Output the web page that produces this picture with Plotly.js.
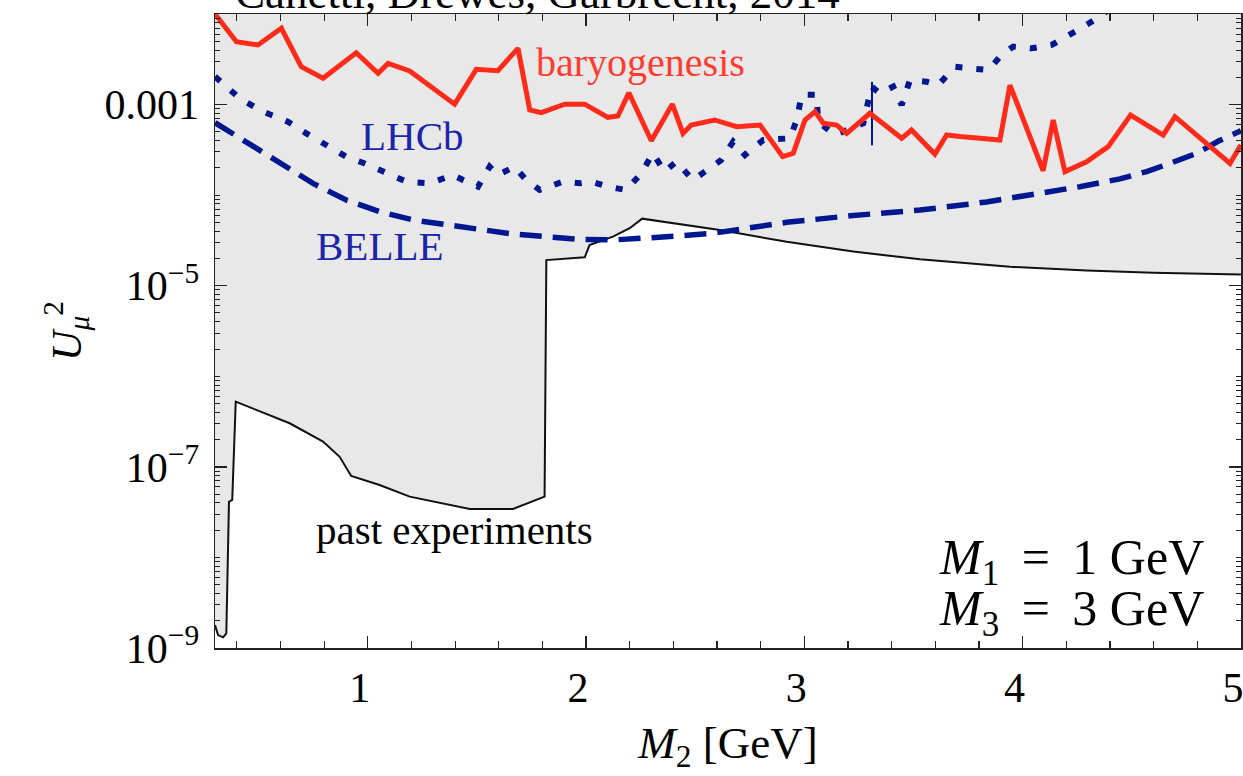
<!DOCTYPE html>
<html>
<head>
<meta charset="utf-8">
<script src="https://cdn.plot.ly/plotly-3.0.1.min.js"></script>
<style>html,body{margin:0;padding:0;background:#fff;}#chart{width:1243px;height:776px;}</style>
</head>
<body>
<div id="chart"></div>
<script>
// ---- data (x = M2 in GeV, y = U_mu^2) ----
const baryoX = [0.3, 0.398, 0.497, 0.604, 0.695, 0.795, 0.947, 1.047, 1.093, 1.192, 1.398, 1.497, 1.596, 1.688, 1.742, 1.795, 1.902, 1.994, 2.100, 2.146, 2.196, 2.299, 2.395, 2.444, 2.482, 2.589, 2.690, 2.797, 2.901, 2.949, 3.003, 3.049, 3.087, 3.148, 3.194, 3.300, 3.446, 3.491, 3.598, 3.652, 3.713, 3.896, 3.942, 4.094, 4.140, 4.194, 4.293, 4.392, 4.495, 4.644, 4.698, 4.950, 5.0];
const baryoY = [1.0e-2, 4.94e-3, 4.55e-3, 6.95e-3, 2.62e-3, 1.95e-3, 3.74e-3, 2.21e-3, 2.85e-3, 2.35e-3, 1.01e-3, 2.45e-3, 2.37e-3, 4.18e-3, 8.71e-4, 8.13e-4, 1.01e-3, 1.01e-3, 7.23e-4, 7.48e-4, 1.35e-3, 3.99e-4, 1.01e-3, 4.81e-4, 5.94e-4, 6.76e-4, 5.70e-4, 5.94e-4, 2.66e-4, 2.90e-4, 6.76e-4, 8.36e-4, 6.21e-4, 5.94e-4, 4.81e-4, 8.0e-4, 4.24e-4, 5.24e-4, 2.84e-4, 4.61e-4, 4.43e-4, 4.06e-4, 1.64e-3, 1.86e-4, 6.76e-4, 1.82e-4, 2.34e-4, 3.43e-4, 7.67e-4, 4.61e-4, 7.35e-4, 2.24e-4, 3.58e-4];

const lhcbX = [0.3, 0.413, 0.520, 0.634, 0.718, 0.818, 0.901, 0.986, 1.070, 1.176, 1.283, 1.390, 1.436, 1.505, 1.558, 1.596, 1.673, 1.719, 1.787, 1.894, 1.971, 2.024, 2.100, 2.184, 2.253, 2.306, 2.360, 2.413, 2.490, 2.581, 2.619, 2.674, 2.728, 2.812, 2.934, 2.965, 2.988, 3.056, 3.063, 3.140, 3.270, 3.308, 3.346, 3.407, 3.446, 3.484, 3.560, 3.613, 3.690, 3.758, 3.842, 3.911, 3.957, 4.041, 4.133, 4.240, 4.354, 4.42];
const lhcbY = [2.04e-3, 1.17e-3, 8.36e-4, 6.47e-4, 4.81e-4, 3.43e-4, 2.66e-4, 2.24e-4, 1.82e-4, 1.41e-4, 1.35e-4, 1.67e-4, 1.47e-4, 1.24e-4, 2.06e-4, 1.67e-4, 2.06e-4, 1.53e-4, 1.14e-4, 1.41e-4, 1.35e-4, 1.41e-4, 1.24e-4, 1.14e-4, 1.74e-4, 2.90e-4, 1.82e-4, 2.34e-4, 1.47e-4, 2.15e-4, 2.44e-4, 3.89e-4, 2.77e-4, 4.06e-4, 4.24e-4, 6.76e-4, 1.28e-3, 1.28e-3, 6.47e-4, 4.61e-4, 6.21e-4, 1.58e-3, 1.33e-3, 1.58e-3, 9.89e-4, 1.87e-3, 1.79e-3, 1.64e-3, 2.62e-3, 2.51e-3, 2.41e-3, 3.68e-3, 4.36e-3, 4.18e-3, 4.55e-3, 6.38e-3, 9.33e-3, 1.26e-2];

const lhcbSpikeX = [3.31, 3.31];
const lhcbSpikeY = [1.78e-3, 3.55e-4];

const belleX = [0.3, 0.443, 0.596, 0.749, 0.901, 1.054, 1.207, 1.360, 1.513, 1.665, 1.818, 1.971, 2.123, 2.276, 2.429, 2.581, 2.919, 3.224, 3.530, 3.835, 4.140, 4.262, 4.446, 4.568, 4.675, 4.797, 4.900, 5.0];
const belleY = [6.31e-4, 3.89e-4, 2.34e-4, 1.35e-4, 8.83e-5, 6.56e-5, 5.32e-5, 4.68e-5, 4.12e-5, 3.72e-5, 3.48e-5, 3.25e-5, 3.20e-5, 3.33e-5, 3.54e-5, 3.79e-5, 5.01e-5, 5.96e-5, 6.84e-5, 8.41e-5, 1.10e-4, 1.24e-4, 1.51e-4, 1.82e-4, 2.24e-4, 2.90e-4, 3.98e-4, 5.13e-4];

const pastX = [0.3, 0.314, 0.337, 0.352, 0.364, 0.379, 0.395, 0.489, 0.642, 0.795, 0.871, 0.924, 1.054, 1.192, 1.329, 1.467, 1.665, 1.810, 1.818, 1.994, 2.016, 2.123, 2.200, 2.257, 2.613, 2.919, 3.224, 3.530, 3.942, 4.293, 4.598, 4.812, 5.0];
const pastY = [1.79e-9, 1.39e-9, 1.31e-9, 1.45e-9, 4.12e-8, 4.31e-8, 5.25e-7, 4.25e-7, 3.03e-7, 1.90e-7, 1.29e-7, 7.93e-8, 6.31e-8, 4.69e-8, 4.02e-8, 3.43e-8, 3.43e-8, 4.69e-8, 1.92e-5, 2.06e-5, 2.81e-5, 3.48e-5, 4.31e-5, 5.50e-5, 4.12e-5, 3.06e-5, 2.38e-5, 1.96e-5, 1.62e-5, 1.47e-5, 1.39e-5, 1.35e-5, 1.33e-5];

const xRange = [0.3, 5.0005];
const yRangeExp = [-9, -2];
const xTickVals = [1, 2, 3, 4, 5];
const xTickText = ['1', '2', '3', '4', '5'];
const yTickVals = [1e-9, 1e-7, 1e-5, 1e-3];
const yTickText = ['10<sup>\u22129</sup>', '10<sup>\u22127</sup>', '10<sup>\u22125</sup>', '0.001'];

// ---- styling ----
const SERIF = 'Liberation Serif, Times New Roman, serif';
const RED = '#ff2b1a';
const BLUE = '#00178f';
const GREY = '#e8e8e8';

// upper boundary of the excluded region = top of the axis
const yTop = Math.pow(10, yRangeExp[1]);
const fillX = pastX.concat([xRange[1], xRange[0]]);
const fillY = pastY.concat([yTop, yTop]);

// minor ticks on the log axis: 2..9 of every decade and the unlabeled decades
const yMinor = [];
for (let e = yRangeExp[0]; e < yRangeExp[1]; e++) {
  for (let d = 1; d <= 9; d++) {
    const v = d * Math.pow(10, e);
    if (!yTickVals.some(t => Math.abs(t - v) / v < 1e-6)) yMinor.push(v);
  }
}

const traces = [
  {x: fillX, y: fillY, mode: 'lines', fill: 'toself', fillcolor: GREY,
   line: {width: 0, color: GREY}, hoverinfo: 'skip', showlegend: false},
  {x: pastX, y: pastY, mode: 'lines', line: {color: '#111', width: 2}, showlegend: false},
  {x: belleX, y: belleY, mode: 'lines', line: {color: BLUE, width: 5.5, dash: '22px,11px'}, showlegend: false},
  {x: lhcbX, y: lhcbY, mode: 'lines', line: {color: BLUE, width: 6, dash: '7px,14px'}, showlegend: false},
  {x: lhcbSpikeX, y: lhcbSpikeY, mode: 'lines', line: {color: BLUE, width: 2}, showlegend: false},
  {x: baryoX, y: baryoY, mode: 'lines', line: {color: RED, width: 5}, showlegend: false}
];

const layout = {
  width: 1243, height: 776,
  margin: {l: 215, r: 2, t: 14, b: 128, pad: 0},
  paper_bgcolor: '#ffffff', plot_bgcolor: '#ffffff',
  showlegend: false,
  font: {family: SERIF, color: '#000', size: 42},
  xaxis: {
    range: xRange, showgrid: false, zeroline: false,
    showline: true, linecolor: '#222', linewidth: 1.5, mirror: 'ticks',
    ticks: 'inside', ticklen: 12, tickwidth: 1.3, tickcolor: '#222',
    tickmode: 'array', tickvals: xTickVals, ticktext: xTickText,
    tickfont: {family: SERIF, size: 42, color: '#000'},
    ticklabelstandoff: 2, ticklabelshift: -8, ticklabeloverflow: 'allow',
    minor: {ticks: 'inside', ticklen: 7, tickwidth: 1.2, tickcolor: '#222', dtick: 0.2, tick0: 0, showgrid: false},
    title: {text: '<i>M</i><sub>2</sub> [GeV]', font: {family: SERIF, size: 45, color: '#000'}, standoff: 16}
  },
  yaxis: {
    type: 'log', range: yRangeExp, showgrid: false, zeroline: false,
    showline: true, linecolor: '#222', linewidth: 1.5, mirror: 'ticks',
    ticks: 'inside', ticklen: 12, tickwidth: 1.3, tickcolor: '#222',
    tickmode: 'array', tickvals: yTickVals, ticktext: yTickText,
    tickfont: {family: SERIF, size: 42, color: '#000'},
    ticklabelstandoff: 6,
    minor: {ticks: 'inside', ticklen: 5, tickwidth: 1, tickcolor: '#222', tickmode: 'array', tickvals: yMinor, showgrid: false},
    title: {text: '<i>U</i><sub><i>\u03bc</i></sub><sup>2</sup>', font: {family: SERIF, size: 42, color: '#000'}, standoff: 10}
  },
  annotations: [
    {text: 'baryogenesis', xref: 'x', yref: 'y', x: 2.251, y: -2.54, showarrow: false,
     xanchor: 'center', yanchor: 'middle', font: {family: SERIF, size: 40, color: '#ff3b2f'}},
    {text: 'LHCb', xref: 'x', yref: 'y', x: 1.207, y: -3.35, showarrow: false,
     xanchor: 'center', yanchor: 'middle', font: {family: SERIF, size: 41, color: '#1b25a8'}},
    {text: 'BELLE', xref: 'x', yref: 'y', x: 1.054, y: -4.56, showarrow: false,
     xanchor: 'center', yanchor: 'middle', font: {family: SERIF, size: 41, color: '#1b25a8'}},
    {text: 'past experiments', xref: 'x', yref: 'y', x: 1.395, y: -7.70, showarrow: false,
     xanchor: 'center', yanchor: 'middle', font: {family: SERIF, size: 41, color: '#000'}},
    {text: '<i>M</i><sub>1</sub> \u2009=\u2009 1 GeV', xref: 'x', yref: 'y', x: 4.84, y: -8.04, showarrow: false,
     xanchor: 'right', yanchor: 'middle', font: {family: SERIF, size: 50, color: '#000'}},
    {text: '<i>M</i><sub>3</sub> \u2009=\u2009 3 GeV', xref: 'x', yref: 'y', x: 4.84, y: -8.60, showarrow: false,
     xanchor: 'right', yanchor: 'middle', font: {family: SERIF, size: 50, color: '#000'}},
    {text: 'Canetti, Drewes, Garbrecht, 2014', xref: 'paper', yref: 'paper', x: 0.314, y: 0.9905, showarrow: false,
     xanchor: 'center', yanchor: 'bottom', font: {family: SERIF, size: 45, color: '#000'}}
  ]
};

Plotly.newPlot('chart', traces, layout, {displayModeBar: false, staticPlot: true});
</script>
</body>
</html>
